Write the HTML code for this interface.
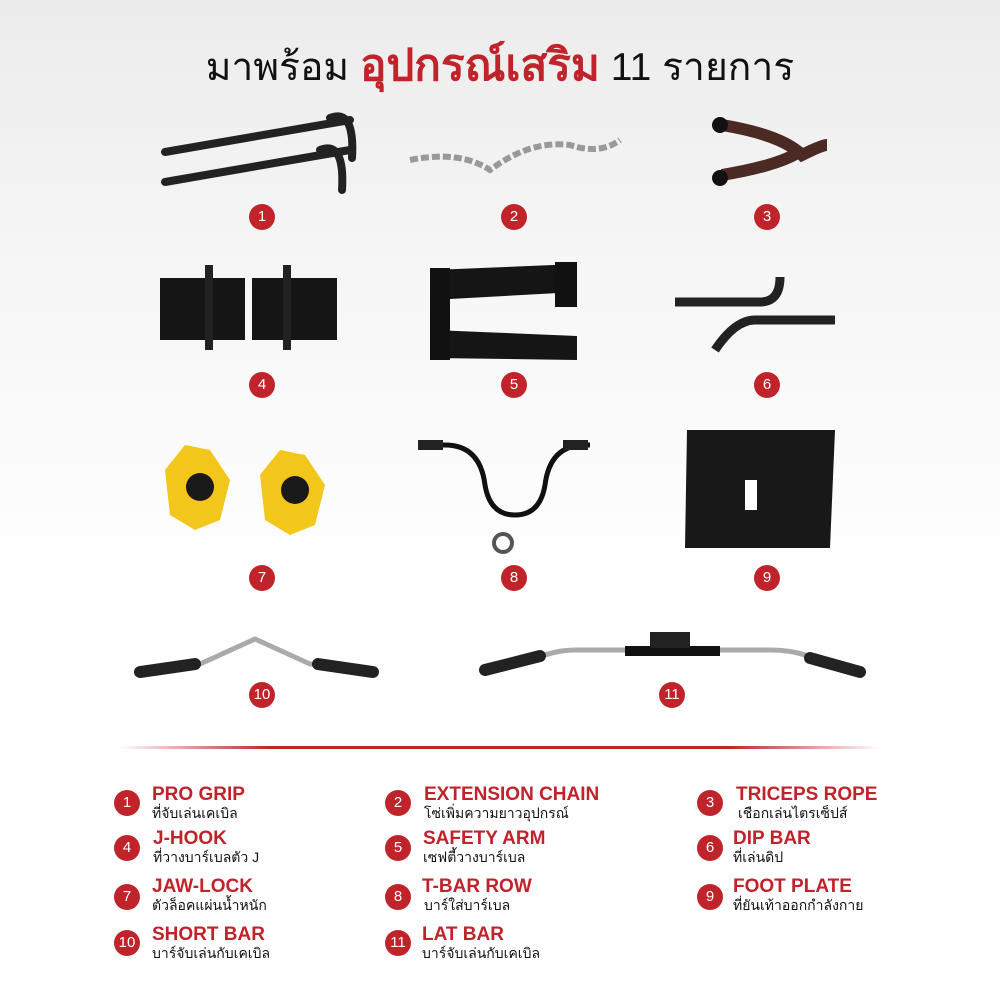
<!DOCTYPE html>
<html><head><meta charset="utf-8"><style>
body{margin:0}
#c{position:relative;width:1000px;height:1000px;overflow:hidden;background:linear-gradient(#ececec 0,#f7f7f7 300px,#fff 600px);font-family:"Liberation Sans","DejaVu Sans",sans-serif}
.n{position:absolute;width:26px;height:26px;border-radius:50%;background:#c0232a;color:#fff;font-size:15px;line-height:26px;text-align:center}
.t{position:absolute;color:#c0232a;font-weight:bold;font-size:19px;line-height:20px;white-space:nowrap}
.s{position:absolute;color:#111;font-size:14px;line-height:16px;white-space:nowrap}
.ln{position:absolute;top:746px;left:120px;width:760px;height:3px;background:linear-gradient(90deg,rgba(192,35,42,0),#c0232a 20%,#c0232a 80%,rgba(192,35,42,0))}
</style></head><body><div id="c">
<div style="position:absolute;top:30px;left:0;width:1000px;text-align:center;font-size:39px;white-space:nowrap;color:#111">มาพร้อม <b style="color:#c0232a;font-size:44px">อุปกรณ์เสริม</b> 11 รายการ</div>
<svg width="1000" height="740" style="position:absolute;left:0;top:0">
<g stroke="#222" stroke-width="8" fill="none" stroke-linecap="round">
<path d="M165 152 L350 120"/><path d="M165 182 L350 150"/>
<path d="M330 118 q25 -10 22 40"/><path d="M320 150 q25 -10 22 40"/>
</g>
<path d="M410 160 q50 -10 80 10 q40 -30 80 -25 q30 10 50 -5" stroke="#999" stroke-width="6" fill="none" stroke-dasharray="8 3"/>
<path d="M722 125 q60 10 80 30 q20 -10 25 -10" stroke="#4a2a22" stroke-width="12" fill="none"/>
<path d="M722 175 q60 -10 80 -25" stroke="#4a2a22" stroke-width="12" fill="none"/>
<circle cx="720" cy="125" r="8" fill="#111"/><circle cx="720" cy="178" r="8" fill="#111"/>
<rect x="160" y="278" width="85" height="62" fill="#151515"/><rect x="252" y="278" width="85" height="62" fill="#151515"/>
<rect x="205" y="265" width="8" height="85" fill="#222"/><rect x="283" y="265" width="8" height="85" fill="#222"/>
<path d="M432 270 L577 264 V292 L432 300 Z" fill="#151515"/>
<path d="M432 330 L577 336 V360 L432 358 Z" fill="#151515"/>
<rect x="430" y="268" width="20" height="92" fill="#111"/>
<rect x="555" y="262" width="22" height="45" fill="#111"/>
<g stroke="#222" stroke-width="9" fill="none"><path d="M675 302 H760 q20 0 20 -25"/><path d="M715 350 q20 -30 40 -30 H835"/></g>
<g fill="#1a1a1a"><path d="M165 470 l20 -25 25 5 20 30 -10 40 -25 10 -25 -15z" fill="#f2c61a"/><path d="M260 475 l20 -25 25 5 20 30 -10 40 -25 10 -25 -15z" fill="#f2c61a"/><circle cx="200" cy="487" r="14"/><circle cx="295" cy="490" r="14"/></g>
<path d="M420 445 H445 q35 0 40 40 q5 30 30 30 q25 0 30 -30 q5 -40 40 -40 H590" stroke="#111" stroke-width="5" fill="none"/>
<rect x="418" y="440" width="25" height="10" fill="#222"/><rect x="563" y="440" width="25" height="10" fill="#222"/>
<circle cx="503" cy="543" r="9" fill="none" stroke="#555" stroke-width="4"/>
<path d="M687 430 H835 L830 548 H685 Z" fill="#181818"/>
<rect x="745" y="480" width="12" height="30" fill="#fff"/>
<path d="M140 672 l60 -8 55 -25 55 25 65 8" stroke="#aaa" stroke-width="5" fill="none"/>
<path d="M140 672 l55 -8" stroke="#222" stroke-width="12" stroke-linecap="round"/>
<path d="M318 664 l55 8" stroke="#222" stroke-width="12" stroke-linecap="round"/>
<path d="M485 670 L545 655 Q560 650 575 650 H770 Q790 650 805 655 L860 672" stroke="#aaa" stroke-width="5" fill="none"/>
<path d="M485 670 l55 -14" stroke="#222" stroke-width="12" stroke-linecap="round"/>
<path d="M810 658 l50 14" stroke="#222" stroke-width="12" stroke-linecap="round"/>
<rect x="625" y="646" width="95" height="10" fill="#111"/><rect x="650" y="632" width="40" height="16" fill="#222"/>
</svg>
<div class="n" style="left:249px;top:204px">1</div><div class="n" style="left:501px;top:204px">2</div><div class="n" style="left:754px;top:204px">3</div>
<div class="n" style="left:249px;top:372px">4</div><div class="n" style="left:501px;top:372px">5</div><div class="n" style="left:754px;top:372px">6</div>
<div class="n" style="left:249px;top:565px">7</div><div class="n" style="left:501px;top:565px">8</div><div class="n" style="left:754px;top:565px">9</div>
<div class="n" style="left:249px;top:682px">10</div><div class="n" style="left:659px;top:682px">11</div>
<div class="ln"></div>
<div class="n" style="left:114px;top:790px">1</div><div class="t" style="left:152px;top:785px">PRO GRIP</div><div class="s" style="left:152px;top:805px">ที่จับเล่นเคเบิล</div>
<div class="n" style="left:385px;top:790px">2</div><div class="t" style="left:424px;top:785px">EXTENSION CHAIN</div><div class="s" style="left:424px;top:805px">โซ่เพิ่มความยาวอุปกรณ์</div>
<div class="n" style="left:697px;top:790px">3</div><div class="t" style="left:736px;top:785px">TRICEPS ROPE</div><div class="s" style="left:738px;top:805px">เชือกเล่นไตรเซ็ปส์</div>
<div class="n" style="left:114px;top:835px">4</div><div class="t" style="left:153px;top:829px">J-HOOK</div><div class="s" style="left:153px;top:849px">ที่วางบาร์เบลตัว J</div>
<div class="n" style="left:385px;top:835px">5</div><div class="t" style="left:423px;top:829px">SAFETY ARM</div><div class="s" style="left:423px;top:849px">เซฟตี้วางบาร์เบล</div>
<div class="n" style="left:697px;top:835px">6</div><div class="t" style="left:733px;top:829px">DIP BAR</div><div class="s" style="left:733px;top:849px">ที่เล่นดิป</div>
<div class="n" style="left:114px;top:884px">7</div><div class="t" style="left:152px;top:877px">JAW-LOCK</div><div class="s" style="left:152px;top:897px">ตัวล็อคแผ่นน้ำหนัก</div>
<div class="n" style="left:385px;top:884px">8</div><div class="t" style="left:422px;top:877px">T-BAR ROW</div><div class="s" style="left:424px;top:897px">บาร์ใส่บาร์เบล</div>
<div class="n" style="left:697px;top:884px">9</div><div class="t" style="left:733px;top:877px">FOOT PLATE</div><div class="s" style="left:733px;top:897px">ที่ยันเท้าออกกำลังกาย</div>
<div class="n" style="left:114px;top:930px">10</div><div class="t" style="left:152px;top:925px">SHORT BAR</div><div class="s" style="left:152px;top:945px">บาร์จับเล่นกับเคเบิล</div>
<div class="n" style="left:385px;top:930px">11</div><div class="t" style="left:422px;top:925px">LAT BAR</div><div class="s" style="left:422px;top:945px">บาร์จับเล่นกับเคเบิล</div>
</div></body></html>
